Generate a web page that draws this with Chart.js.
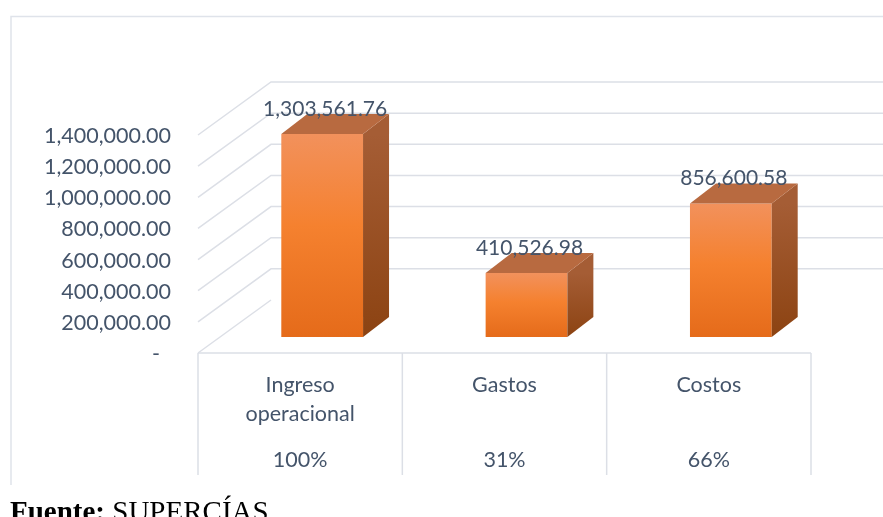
<!DOCTYPE html>
<html>
<head>
<meta charset="utf-8">
<script src="https://cdn.jsdelivr.net/npm/chart.js@4.4.1/dist/chart.umd.min.js"></script>
<style>
  html, body { margin: 0; padding: 0; background: #fff; }
  #wrap { position: relative; width: 883px; height: 517px; overflow: hidden; }
  #fuente {
    position: absolute; left: 10px; top: 497px;
    font-family: "Liberation Serif", "Times New Roman", serif;
    font-size: 29px; line-height: 1; color: #000; white-space: nowrap;
  }
</style>
</head>
<body>
<div id="wrap">
  <canvas id="myChart" width="883" height="517"></canvas>
  <div id="fuente"><b>Fuente:</b> SUPERCÍAS</div>
</div>
<script>
const categories = [["Ingreso", "operacional"], ["Gastos"], ["Costos"]];
const amounts = [1303561.76, 410526.98, 856600.58];
const shares = ["100%", "31%", "66%"];
const yMax = 1400000;
const yStep = 200000;

const textColor = "#44546a";
const gridColor = "#dcdfe6";
const labelFont = { family: "Lato", size: 21.5, lineHeight: 1.32 };

function money(v) {
  return v.toLocaleString("en-US", { minimumFractionDigits: 2, maximumFractionDigits: 2 });
}

// fake 3d: walls behind, top + side faces on the bars, value labels
const depthX = 26, depthY = -20;   // bar extrusion
const wallDX = 73;                 // front floor edge -> back wall
const frontDY = 16, backDY = -37;  // offsets from the bar plane
const shiftX = -22;                // front floor edge vs bar plane

const threeD = {
  id: "threeD",
  beforeDatasetsDraw(chart) {
    const { ctx, scales: { x, y } } = chart;
    const step = x.getPixelForValue(1) - x.getPixelForValue(0);
    const frontLeft = x.getPixelForValue(0) - step / 2 + shiftX;
    const backLeft = frontLeft + wallDX;
    ctx.save();
    ctx.lineWidth = 1.5;
    ctx.strokeStyle = "#dfe3ea";
    ctx.beginPath();
    ctx.moveTo(11, 485); ctx.lineTo(11, 16.5); ctx.lineTo(chart.width, 16.5);
    ctx.stroke();

    ctx.strokeStyle = gridColor;
    y.ticks.forEach(t => {
      const py = y.getPixelForValue(t.value);
      ctx.beginPath();
      ctx.moveTo(frontLeft, py + frontDY);
      ctx.lineTo(backLeft, py + backDY);
      if (t.value > 0) ctx.lineTo(chart.width, py + backDY);
      ctx.stroke();
    });

    // floor front edge and the table dividers
    const floorY = y.getPixelForValue(0) + frontDY;
    ctx.beginPath();
    ctx.moveTo(frontLeft, floorY);
    ctx.lineTo(frontLeft + step * amounts.length, floorY);
    for (let i = 0; i <= amounts.length; i++) {
      ctx.moveTo(frontLeft + step * i, floorY);
      ctx.lineTo(frontLeft + step * i, 475);
    }
    ctx.stroke();
    ctx.restore();
  },
  afterDatasetsDraw(chart) {
    const { ctx } = chart;
    const bars = chart.getDatasetMeta(0).data;
    ctx.save();
    bars.forEach((bar, i) => {
      const left = bar.x - bar.width / 2;
      const right = bar.x + bar.width / 2;
      const top = bar.y, base = bar.base;

      const side = ctx.createLinearGradient(0, top, 0, base);
      side.addColorStop(0, "#a55d35");
      side.addColorStop(1, "#8c4312");
      ctx.fillStyle = side;
      ctx.beginPath();
      ctx.moveTo(right, top);
      ctx.lineTo(right + depthX, top + depthY);
      ctx.lineTo(right + depthX, base + depthY);
      ctx.lineTo(right, base);
      ctx.closePath();
      ctx.fill();

      ctx.fillStyle = "#b86a40";
      ctx.beginPath();
      ctx.moveTo(left, top);
      ctx.lineTo(left + depthX, top + depthY);
      ctx.lineTo(right + depthX, top + depthY);
      ctx.lineTo(right, top);
      ctx.closePath();
      ctx.fill();

      ctx.fillStyle = textColor;
      ctx.font = "21px Lato";
      ctx.textAlign = "center";
      ctx.textBaseline = "middle";
      ctx.fillText(money(amounts[i]), bar.x + 3, top - 25);
    });
    ctx.restore();
  }
};

const ctx = document.getElementById("myChart").getContext("2d");

new Chart(ctx, {
  type: "bar",
  data: {
    labels: categories,
    datasets: [{
      label: "Monto",
      data: amounts,
      barPercentage: 0.4,
      categoryPercentage: 1,
      borderWidth: 0,
      backgroundColor: function (c) {
        const chart = c.chart;
        if (!chart.chartArea || c.dataIndex === undefined) return "#f47e2e";
        const y = chart.scales.y;
        const top = y.getPixelForValue(amounts[c.dataIndex]);
        const base = y.getPixelForValue(0);
        const g = chart.ctx.createLinearGradient(0, top, 0, base);
        g.addColorStop(0, "#f2915c");
        g.addColorStop(0.45, "#f5812f");
        g.addColorStop(1, "#e56b1a");
        return g;
      }
    }]
  },
  options: {
    responsive: false,
    animation: false,
    layout: { padding: { left: 0, right: 50, top: 119, bottom: 0 } },
    plugins: {
      legend: { display: false },
      tooltip: { enabled: false }
    },
    scales: {
      x: {
        weight: 0,
        grid: { display: false, drawTicks: false },
        border: { display: false },
        afterFit: s => { s.height = 105; },
        ticks: {
          color: textColor,
          font: labelFont,
          padding: 34,
          labelOffset: shiftX,
          autoSkip: false,
          maxRotation: 0
        }
      },
      x2: {
        type: "category",
        position: "bottom",
        weight: 1,
        labels: shares,
        grid: { display: false, drawTicks: false },
        border: { display: false },
        afterFit: s => { s.height = 75; },
        ticks: {
          color: textColor,
          font: labelFont,
          padding: 4,
          labelOffset: shiftX,
          autoSkip: false,
          maxRotation: 0
        }
      },
      y: {
        min: 0,
        max: yMax,
        grid: { display: false, drawTicks: false },
        border: { display: false },
        afterFit: s => { s.width = 220; },
        ticks: {
          stepSize: yStep,
          color: textColor,
          font: { family: "Lato", size: 21.5 },
          padding: 49,
          labelOffset: 17,
          callback: v => v === 0 ? "-  " : money(v)
        }
      }
    }
  },
  plugins: [threeD]
});
</script>
</body>
</html>
